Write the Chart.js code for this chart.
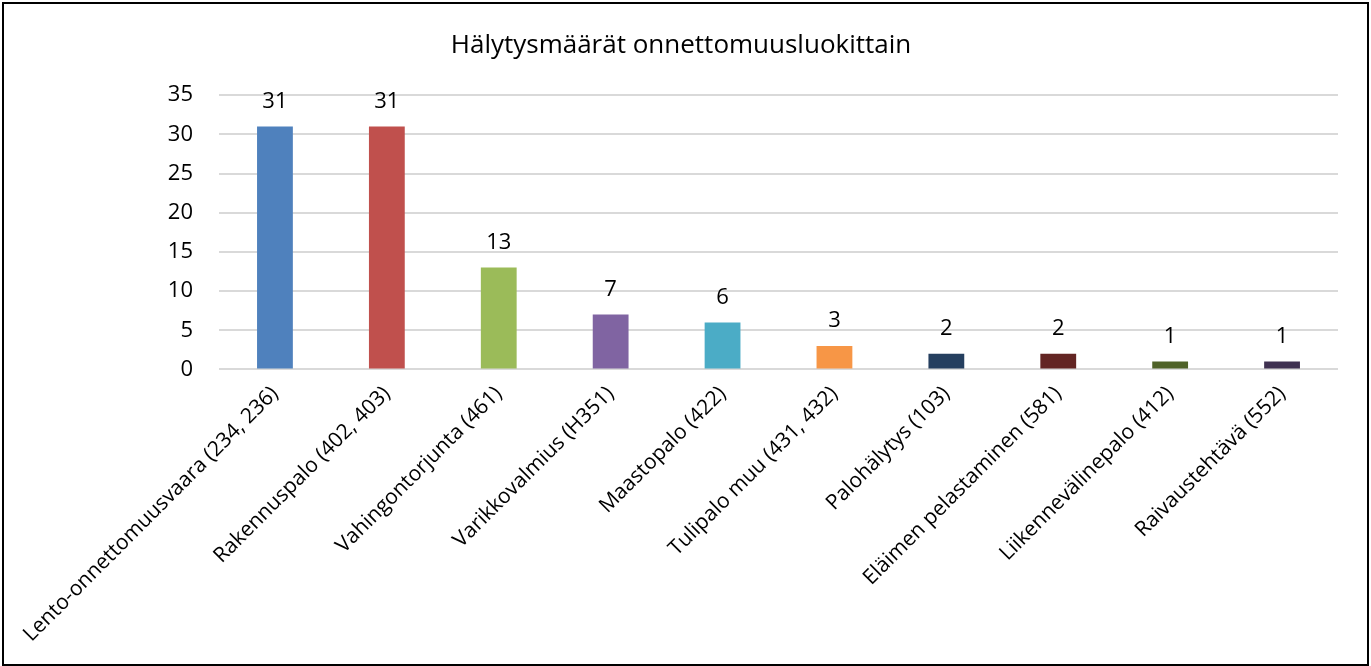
<!DOCTYPE html>
<html>
<head>
<meta charset="utf-8">
<script src="https://cdn.jsdelivr.net/npm/chart.js@4"></script>
<style>
  html, body { margin: 0; padding: 0; background: #fff; }
  #wrap {
    position: absolute; left: 2px; top: 2px;
    width: 1363px; height: 660px;
    border: 2px solid #000;
  }
</style>
</head>
<body>
<div id="wrap"><canvas id="chart"></canvas></div>
<script>
// categories and counts
const categories = [
  'Lento-onnettomuusvaara (234, 236)',
  'Rakennuspalo (402, 403)',
  'Vahingontorjunta (461)',
  'Varikkovalmius (H351)',
  'Maastopalo (422)',
  'Tulipalo muu (431, 432)',
  'Palohälytys (103)',
  'Eläimen pelastaminen (581)',
  'Liikennevälinepalo (412)',
  'Raivaustehtävä (552)'
];
const counts = [31, 31, 13, 7, 6, 3, 2, 2, 1, 1];
const barColors = ['#4F81BD', '#C0504D', '#9BBB59', '#8064A2', '#4BACC6',
                   '#F79646', '#253F5F', '#632523', '#4F6228', '#3F3151'];
const yTicks = [0, 5, 10, 15, 20, 25, 30, 35];

const fontFamily = '"Open Sans", "Noto Sans", sans-serif';

// simple value labels above each bar
const valueLabels = {
  id: 'valueLabels',
  afterDatasetsDraw(chart) {
    const ctx = chart.ctx;
    const meta = chart.getDatasetMeta(0);
    ctx.save();
    ctx.font = '22px ' + fontFamily;
    ctx.fillStyle = '#000';
    ctx.textAlign = 'center';
    ctx.textBaseline = 'bottom';
    meta.data.forEach((bar, i) => {
      ctx.fillText(chart.data.datasets[0].data[i], bar.x, bar.y - 14);
    });
    ctx.restore();
  }
};

const ctx = document.getElementById('chart').getContext('2d');
new Chart(ctx, {
  type: 'bar',
  data: {
    labels: categories,
    datasets: [{
      data: counts,
      backgroundColor: barColors,
      categoryPercentage: 1,
      barPercentage: 0.32
    }]
  },
  options: {
    responsive: true,
    maintainAspectRatio: false,
    animation: false,
    layout: { padding: { left: 20, right: 29, top: 10, bottom: 5 } },
    plugins: {
      legend: { display: false },
      tooltip: { enabled: false },
      title: {
        display: true,
        text: 'Hälytysmäärät onnettomuusluokittain',
        color: '#000',
        font: { family: fontFamily, size: 26, weight: 'normal' },
        padding: { top: 16, bottom: 34 }
      }
    },
    scales: {
      x: {
        grid: { display: false, drawTicks: false },
        border: { display: false },
        ticks: {
          color: '#000',
          font: { family: fontFamily, size: 21 },
          minRotation: 45,
          maxRotation: 45,
          autoSkip: false,
          padding: 12
        }
      },
      y: {
        min: 0,
        max: 35,
        afterBuildTicks: axis => { axis.ticks = yTicks.map(v => ({ value: v })); },
        afterFit: axis => { axis.width = 195; },
        grid: { color: '#D9D9D9', lineWidth: 2, drawTicks: false },
        border: { display: false },
        ticks: {
          color: '#000',
          font: { family: fontFamily, size: 22 },
          padding: 26
        }
      }
    }
  },
  plugins: [valueLabels]
});
</script>
</body>
</html>
